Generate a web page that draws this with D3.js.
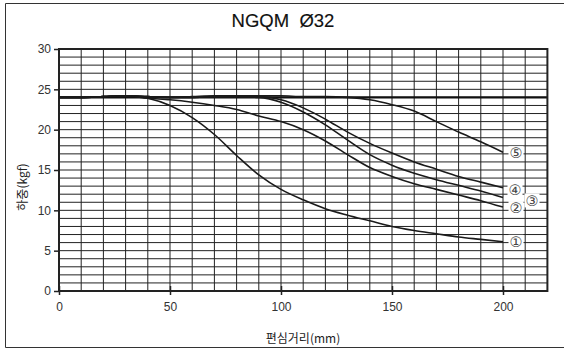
<!DOCTYPE html>
<html><head><meta charset="utf-8">
<script src="https://cdn.jsdelivr.net/npm/d3@7/dist/d3.min.js"></script>
<style>body{margin:0;background:#fff}svg{display:block}</style>
</head><body>
<script>
const title = "NGQM  Ø32";
const xLabel = "편심거리(mm)";
const yLabel = "하중(kgf)";
const xTicks = [0, 50, 100, 150, 200];
const yTicks = [0, 5, 10, 15, 20, 25, 30];
const distances = [0,10,20,30,40,50,60,70,80,90,100,110,120,130,140,150,160,170,180,190,200];
const series1 = [24,24,24.1,24.2,23.9,23.0,21.5,19.4,16.8,14.4,12.6,11.3,10.2,9.4,8.7,8.0,7.5,7.1,6.7,6.4,6.1];
const series2 = [24,24,24.1,24.2,23.9,23.7,23.4,23.0,22.5,21.7,21.0,20.0,18.6,16.9,15.3,14.2,13.3,12.6,11.9,11.2,10.4];
const series3 = [24,24,24.1,24.2,24.1,24.0,24.0,24.1,24.1,24.0,23.4,22.2,20.6,18.7,16.9,15.6,14.6,13.8,13.1,12.4,11.6];
const series4 = [24,24,24.1,24.2,24.1,24.0,24.0,24.1,24.1,24.1,23.7,22.7,21.3,19.7,18.3,17.1,16.0,15.1,14.2,13.5,12.8];
const series5 = [24,24,24.1,24.2,24.1,24.0,24.1,24.2,24.2,24.2,24.2,24.1,24.1,24.0,23.7,23.1,22.3,21.0,19.7,18.5,17.2];
const seriesNames = ["①","②","③","④","⑤"];
const maxLoad = 24;

const W = 564, H = 349;
const svg = d3.select("body").append("svg").attr("width", W).attr("height", H);
const x = d3.scaleLinear().domain([0, 220]).range([59, 547.4]);
const y = d3.scaleLinear().domain([0, 30]).range([291, 49]);
const ink = "#222";

// outer frame
svg.append("path").attr("d", `M${W+2},3.5 H5.5 V347.5 H${W+2}`)
  .attr("fill","none").attr("stroke","#333").attr("stroke-width",1);

// grid
const g = svg.append("g");
g.selectAll("line.v").data(d3.range(10, 220, 10)).join("line")
  .attr("x1", d => x(d)).attr("x2", d => x(d)).attr("y1", y(0)).attr("y2", y(30))
  .attr("stroke", ink).attr("stroke-width", 1);
g.selectAll("line.h").data(d3.range(1, 30, 1)).join("line")
  .attr("y1", d => y(d)).attr("y2", d => y(d)).attr("x1", x(0)).attr("x2", x(220))
  .attr("stroke", ink).attr("stroke-width", 1);
// max load line
g.append("line").attr("x1", x(0)).attr("x2", x(220)).attr("y1", y(maxLoad)).attr("y2", y(maxLoad))
  .attr("stroke", "#111").attr("stroke-width", 2.2);

// plot frame
svg.append("rect").attr("x", x(0)).attr("y", y(30)).attr("width", x(220)-x(0)).attr("height", y(0)-y(30))
  .attr("fill","none").attr("stroke", ink).attr("stroke-width", 2);

// axes
const fontNum = "'Liberation Sans', Arial, sans-serif";
const xa = svg.append("g").attr("transform", `translate(0,${y(0)})`)
  .call(d3.axisBottom(x).tickValues(xTicks).tickSize(4).tickPadding(7).tickFormat(d3.format("d")));
xa.select(".domain").remove();
xa.selectAll(".tick line").attr("y1", -5).attr("stroke", ink).attr("stroke-width", 1.5);
xa.selectAll("text").attr("font-family", fontNum).attr("font-size", 12).attr("fill", "#333");

const ya = svg.append("g").attr("transform", `translate(${x(0)},0)`)
  .call(d3.axisLeft(y).tickValues(yTicks).tickSize(5).tickPadding(3).tickFormat(d3.format("d")));
ya.select(".domain").remove();
ya.selectAll(".tick line").attr("stroke", ink).attr("stroke-width", 1.5);
ya.selectAll("text").attr("font-family", fontNum).attr("font-size", 12).attr("fill", "#333");

// curves
const allSeries = [series1, series2, series3, series4, series5];
const line = d3.line().x((d, i) => x(distances[i])).y(d => y(d)).curve(d3.curveMonotoneX);
svg.append("g").selectAll("path").data(allSeries).join("path")
  .attr("d", line).attr("fill", "none").attr("stroke", "#1a1a1a").attr("stroke-width", 1.6);

// labels
const lastX = distances[distances.length-1];
const labelDx = [13, 13, 29, 12, 13];
const labelDy = [0, 1, 3, 2, 1];
const lab = svg.append("g");
allSeries.forEach((s, i) => {
  const cx = x(lastX) + labelDx[i], cy = y(s[s.length-1]) + labelDy[i];
  lab.append("rect").attr("x", cx-7.5).attr("y", cy-7).attr("width", 15).attr("height", 14).attr("fill", "#fff");
  lab.append("text").attr("x", cx).attr("y", cy).attr("dy", "0.35em").attr("text-anchor", "middle")
    .attr("font-family", "'DejaVu Sans', sans-serif").attr("font-size", 14.5).attr("fill", "#444")
    .text(seriesNames[i]);
});

// title & axis labels
svg.append("text").attr("x", 283).attr("y", 27).attr("text-anchor", "middle")
  .attr("font-family", fontNum).attr("font-size", 18.5).attr("fill", "#111")
  .attr("stroke", "#111").attr("stroke-width", 0.15)
  .style("white-space","pre").text(title);
svg.append("text").attr("x", 303).attr("y", 343).attr("text-anchor", "middle")
  .attr("font-family", "'Noto Sans CJK KR', sans-serif").attr("font-size", 12).attr("fill", "#222").text(xLabel);
svg.append("text").attr("transform", "translate(27,187) rotate(-90)").attr("text-anchor", "middle")
  .attr("font-family", "'Noto Sans CJK KR', sans-serif").attr("font-size", 12).attr("fill", "#222").text(yLabel);
</script>
</body></html>
